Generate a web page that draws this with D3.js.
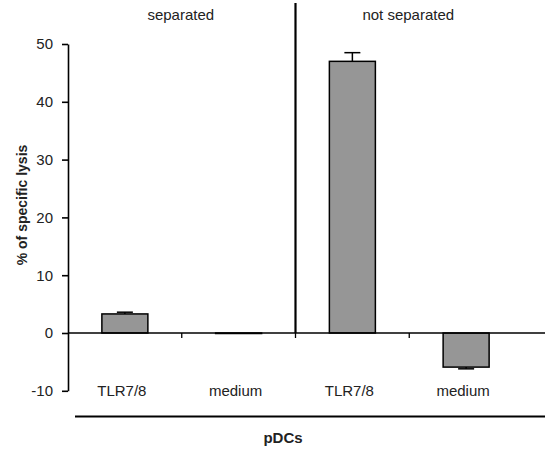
<!DOCTYPE html>
<html>
<head>
<meta charset="utf-8">
<script src="https://cdn.jsdelivr.net/npm/d3@7"></script>
<style>
  body { margin: 0; background: #fff; }
  text { font-family: "Liberation Sans", Arial, sans-serif; fill: #222; }
</style>
</head>
<body>
<div class="chart"></div>
<script>
// values
const categories = ["TLR7/8", "medium", "TLR7/8", "medium"];
const values = [3.3, 0, 47.0, -5.9];
const errors = [0.3, 0, 1.5, 0.3];
const groups = ["separated", "not separated"];
const yTicks = [-10, 0, 10, 20, 30, 40, 50];

const W = 545, H = 451;
const svg = d3.select(".chart").append("svg")
    .attr("width", W).attr("height", H);

// x in "slot" units: 0..4, bar i sits at i+0.5
let xScale = d3.scaleLinear().domain([0, 4]).range([68, 523]);
let yScale = d3.scaleLinear().domain([-10, 50]).range([390.8, 44]);
let barW = 46;

// y axis
let yAxis = d3.axisLeft(yScale).tickValues(yTicks)
    .tickFormat(d => String(d))   // plain hyphen like the original
    .tickSize(6).tickSizeOuter(0);
let gy = svg.append("g")
    .attr("transform", `translate(${xScale(0)},0)`)
    .call(yAxis);
gy.select(".domain").attr("stroke", "#000").attr("stroke-width", 1.6);
gy.selectAll(".tick line").attr("stroke", "#000").attr("stroke-width", 1.6);
gy.selectAll(".tick text")
    .attr("x", -15)
    .style("font-size", "15px")
    .style("font-family", "Liberation Sans, Arial, sans-serif")
    .attr("fill", "#222");

// bars (zero bar still gets a hairline like the original)
svg.selectAll("rect.bar")
    .data(values)
    .enter()
    .append("rect")
    .attr("class", "bar")
    .attr("x", (d, i) => xScale(i + 0.5) - barW / 2)
    .attr("y", d => yScale(Math.max(0, d)))
    .attr("width", barW)
    .attr("height", d => Math.max(0.5, Math.abs(yScale(d) - yScale(0))))
    .attr("fill", "#969696")
    .attr("stroke", "#000")
    .attr("stroke-width", 1.5);

// error bars (one-sided, away from zero)
values.forEach((v, i) => {
    if (errors[i] === 0) return;
    let cx = xScale(i + 0.5);
    let end = v >= 0 ? v + errors[i] : v - errors[i];
    svg.append("line")
        .attr("x1", cx).attr("x2", cx)
        .attr("y1", yScale(v)).attr("y2", yScale(end))
        .attr("stroke", "#000").attr("stroke-width", 1.5);
    svg.append("line")
        .attr("x1", cx - 8).attr("x2", cx + 8)
        .attr("y1", yScale(end)).attr("y2", yScale(end))
        .attr("stroke", "#000").attr("stroke-width", 1.5);
});

// zero line across the whole plot, with ticks between categories
svg.append("line")
    .attr("x1", xScale(0)).attr("x2", W)
    .attr("y1", yScale(0)).attr("y2", yScale(0))
    .attr("stroke", "#000").attr("stroke-width", 1.5);
svg.selectAll("line.xtick")
    .data([1, 2, 3])
    .enter()
    .append("line")
    .attr("class", "xtick")
    .attr("x1", d => xScale(d)).attr("x2", d => xScale(d))
    .attr("y1", yScale(0)).attr("y2", yScale(0) + 5)
    .attr("stroke", "#000").attr("stroke-width", 1.3);

// separator between groups
svg.append("line")
    .attr("x1", xScale(2)).attr("x2", xScale(2))
    .attr("y1", 3).attr("y2", yScale(0))
    .attr("stroke", "#000").attr("stroke-width", 2.2);

// category labels
svg.selectAll("text.cat")
    .data(categories)
    .enter()
    .append("text")
    .attr("class", "cat")
    .attr("x", (d, i) => xScale(i + 0.5) - 3)
    .attr("y", 396)
    .attr("text-anchor", "middle")
    .style("font-size", "15px")
    .text(d => d);

// group titles
svg.selectAll("text.grp")
    .data(groups)
    .enter()
    .append("text")
    .attr("class", "grp")
    .attr("x", (d, i) => xScale(i * 2 + 1) - 1)
    .attr("y", 20)
    .attr("text-anchor", "middle")
    .style("font-size", "15px")
    .text(d => d);

// bottom line + pDCs
svg.append("line")
    .attr("x1", 75).attr("x2", W)
    .attr("y1", 416.5).attr("y2", 416.5)
    .attr("stroke", "#000").attr("stroke-width", 2);
svg.append("text")
    .attr("x", 283).attr("y", 443)
    .attr("text-anchor", "middle")
    .style("font-size", "15px")
    .style("font-weight", "bold")
    .text("pDCs");

// y label
svg.append("text")
    .attr("transform", `translate(22,205) rotate(-90)`)
    .attr("text-anchor", "middle")
    .attr("dy", "0.35em")
    .style("font-size", "14px")
    .style("font-weight", "bold")
    .text("% of specific lysis");
</script>
</body>
</html>
